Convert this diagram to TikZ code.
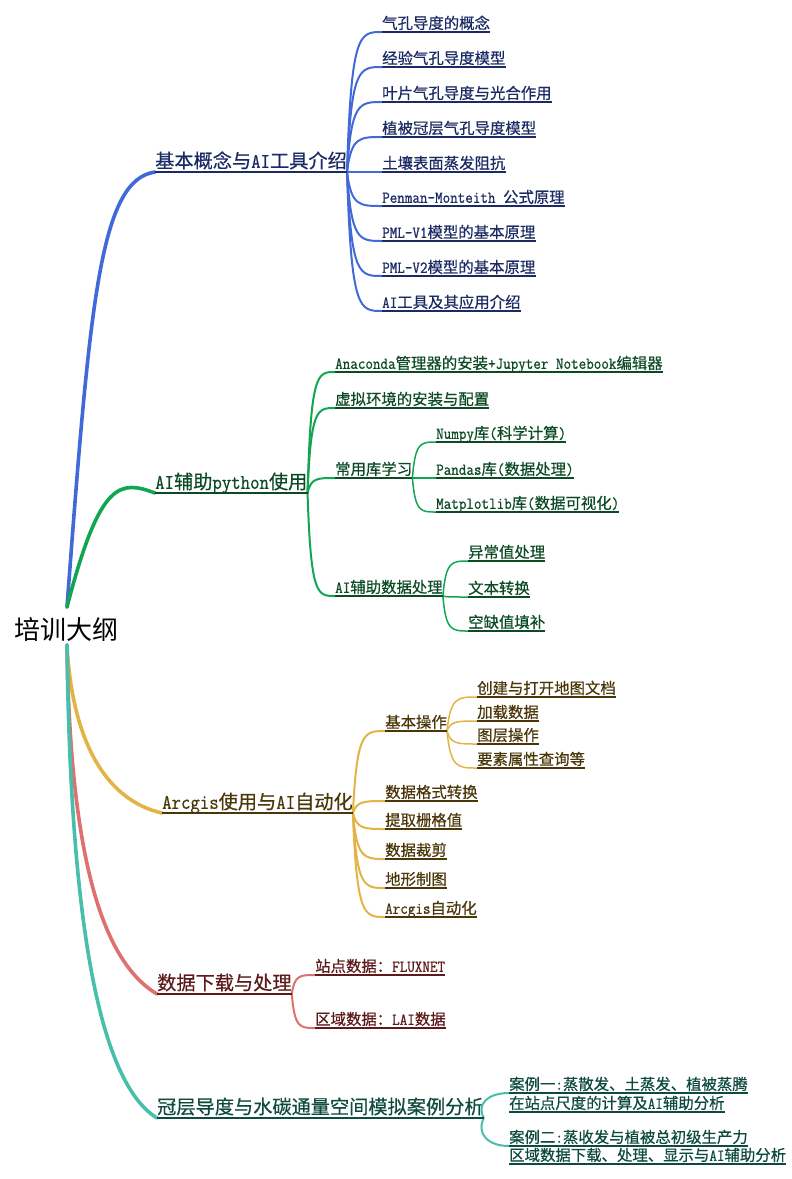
\documentclass[tikz,border=0pt]{standalone}
\usepackage{fontspec}
\setmainfont{Noto Sans CJK SC}[FakeBold=0.5]
\newfontfamily\plain{Noto Sans CJK SC}
\newfontfamily\m[Scale=1.08, FakeStretch=0.882, FakeBold=0.8]{Latin Modern Mono}
\usetikzlibrary{calc}
\definecolor{cb}{HTML}{4169D7}\definecolor{cbt}{HTML}{1B2A63}
\definecolor{cg}{HTML}{12A552}\definecolor{cgt}{HTML}{0B4A25}
\definecolor{ca}{HTML}{E2B446}\definecolor{cat}{HTML}{4A3608}
\definecolor{cr}{HTML}{DE7070}\definecolor{crt}{HTML}{5C1A1A}
\definecolor{ct}{HTML}{47BFAA}\definecolor{ctt}{HTML}{0E4A3E}
\tikzset{
  lone/.style={anchor=south west, inner xsep=0pt, inner ysep=0pt, text depth=4pt, font=\fontsize{19.2}{22}\selectfont},
  ltwo/.style={anchor=south west, inner xsep=0pt, inner ysep=0pt, text depth=3pt, font=\fontsize{15.4}{18}\selectfont},
  conn/.style={to path={let \p1=(\tikztostart), \p2=(\tikztotarget) in .. controls ({\x1+0.12*(\x2-\x1)},\y2) and ({\x1+0.35*(\x2-\x1)},\y2) .. (\tikztotarget)}},
  bulge/.style={to path={let \p1=(\tikztostart), \p2=(\tikztotarget) in .. controls ({\x1-0.3*(\x2-\x1)},{\y1+0.55*(\y2-\y1)}) and ({\x1+0.15*(\x2-\x1)},\y2) .. (\tikztotarget)}},
  ul/.style={line width=1.3pt},
  mainline/.style={line width=3.6pt, line cap=round},
  subline/.style={line width=2pt},
  leafline/.style={line width=1.5pt},
}
\begin{document}
\begin{tikzpicture}[x=1pt,y=-1pt]
\useasboundingbox (0,0) rectangle (792,1179);
% root
\node[font=\plain\fontsize{26}{30}\selectfont, inner sep=0pt] (root) at (67,630) {培训大纲};
\coordinate (rt) at (67,607);
\coordinate (rb) at (67,645);
% blue branch
\begin{scope}[text=cbt]
\node[lone] (B) at (155,172) {基本概念与{\m AI}工具介绍};
\node[ltwo] (b1) at (382,32) {气孔导度的概念};
\node[ltwo] (b2) at (382,67) {经验气孔导度模型};
\node[ltwo] (b3) at (382,102) {叶片气孔导度与光合作用};
\node[ltwo] (b4) at (382,137) {植被冠层气孔导度模型};
\node[ltwo] (b5) at (382,172) {土壤表面蒸发阻抗};
\node[ltwo] (b6) at (382,206) {{\m Penman-Monteith }公式原理};
\node[ltwo] (b7) at (382,241) {{\m PML-V1}模型的基本原理};
\node[ltwo] (b8) at (382,276) {{\m PML-V2}模型的基本原理};
\node[ltwo] (b9) at (382,311) {{\m AI}工具及其应用介绍};
\end{scope}
% green branch
\begin{scope}[text=cgt]
\node[lone] (G) at (155,493) {{\m AI}辅助{\m python}使用};
\node[ltwo] (g1) at (335,372) {{\m Anaconda}管理器的安装{\m +Jupyter Notebook}编辑器};
\node[ltwo] (g2) at (335,408) {虚拟环境的安装与配置};
\node[ltwo] (g3) at (335,478) {常用库学习};
\node[ltwo] (g31) at (436,442) {{\m Numpy}库{\m (}科学计算{\m )}};
\node[ltwo] (g32) at (436,478) {{\m Pandas}库{\m (}数据处理{\m )}};
\node[ltwo] (g33) at (436,512) {{\m Matplotlib}库{\m (}数据可视化{\m )}};
\node[ltwo] (g4) at (335,596) {{\m AI}辅助数据处理};
\node[ltwo] (g41) at (468,561) {异常值处理};
\node[ltwo] (g42) at (468,597) {文本转换};
\node[ltwo] (g43) at (468,631) {空缺值填补};
\end{scope}
% gold branch
\begin{scope}[text=cat]
\node[lone] (A) at (162,813) {{\m Arcgis}使用与{\m AI}自动化};
\node[ltwo] (a1) at (385,731) {基本操作};
\node[ltwo] (a11) at (477,697) {创建与打开地图文档};
\node[ltwo] (a12) at (477,721) {加载数据};
\node[ltwo] (a13) at (477,744) {图层操作};
\node[ltwo] (a14) at (477,768) {要素属性查询等};
\node[ltwo] (a2) at (385,801) {数据格式转换};
\node[ltwo] (a3) at (385,829) {提取栅格值};
\node[ltwo] (a4) at (385,859) {数据裁剪};
\node[ltwo] (a5) at (385,888) {地形制图};
\node[ltwo] (a6) at (385,917) {{\m Arcgis}自动化};
\end{scope}
% red branch
\begin{scope}[text=crt]
\node[lone] (R) at (157,994) {数据下载与处理};
\node[ltwo] (r1) at (315,975) {站点数据：{\m FLUXNET}};
\node[ltwo] (r2) at (315,1028) {区域数据：{\m LAI}数据};
\end{scope}
% teal branch
\begin{scope}[text=ctt]
\node[lone] (T) at (157,1118) {冠层导度与水碳通量空间模拟案例分析};
\node[ltwo] (t1a) at (509,1093) {案例一{\m :}蒸散发、土蒸发、植被蒸腾};
\node[ltwo] (t1b) at (509,1112) {在站点尺度的计算及{\m AI}辅助分析};
\node[ltwo] (t2a) at (509,1146) {案例二{\m :}蒸收发与植被总初级生产力};
\node[ltwo] (t2b) at (509,1164) {区域数据下载、处理、显示与{\m AI}辅助分析};
\end{scope}
% main branches
\draw[mainline, cb] (rt) .. controls (90,300) and (100,180) .. (B.south west);
\draw[mainline, cg] (rt) .. controls (100,480) and (120,480) .. (G.south west);
\draw[mainline, ca] (rb) .. controls (72,740) and (105,800) .. (A.south west);
\draw[mainline, cr] (rb) .. controls (70,850) and (100,960) .. (R.south west);
\draw[mainline, ct] (rb) .. controls (70,900) and (95,1080) .. (T.south west);
% sub connectors
\foreach \k in {b1,b2,b3,b4,b5,b6,b7,b8,b9} \draw[subline, cb] (B.south east) to[conn] (\k.south west);
\foreach \k in {g1,g2,g3,g4} \draw[subline, cg] (G.south east) to[conn] (\k.south west);
\foreach \k in {g31,g32,g33} \draw[leafline, cg] (g3.south east) to[conn] (\k.south west);
\foreach \k in {g41,g42,g43} \draw[leafline, cg] (g4.south east) to[conn] (\k.south west);
\foreach \k in {a1,a2,a3,a4,a5,a6} \draw[subline, ca] (A.south east) to[conn] (\k.south west);
\foreach \k in {a11,a12,a13,a14} \draw[leafline, ca] (a1.south east) to[conn] (\k.south west);
\foreach \k in {r1,r2} \draw[subline, cr] (R.south east) to[conn] (\k.south west);
\foreach \k in {t1a,t2a} \draw[subline, ct] (T.south east) to[bulge] (\k.south west);
% underlines
\foreach \k in {B,b1,b2,b3,b4,b5,b6,b7,b8,b9} \draw[ul, cbt] (\k.south west) -- (\k.south east);
\foreach \k in {G,g1,g2,g3,g31,g32,g33,g4,g41,g42,g43} \draw[ul, cgt] (\k.south west) -- (\k.south east);
\foreach \k in {A,a1,a11,a12,a13,a14,a2,a3,a4,a5,a6} \draw[ul, cat] (\k.south west) -- (\k.south east);
\foreach \k in {R,r1,r2} \draw[ul, crt] (\k.south west) -- (\k.south east);
\foreach \k in {T,t1a,t1b,t2a,t2b} \draw[ul, ctt] (\k.south west) -- (\k.south east);
\end{tikzpicture}
\end{document}
